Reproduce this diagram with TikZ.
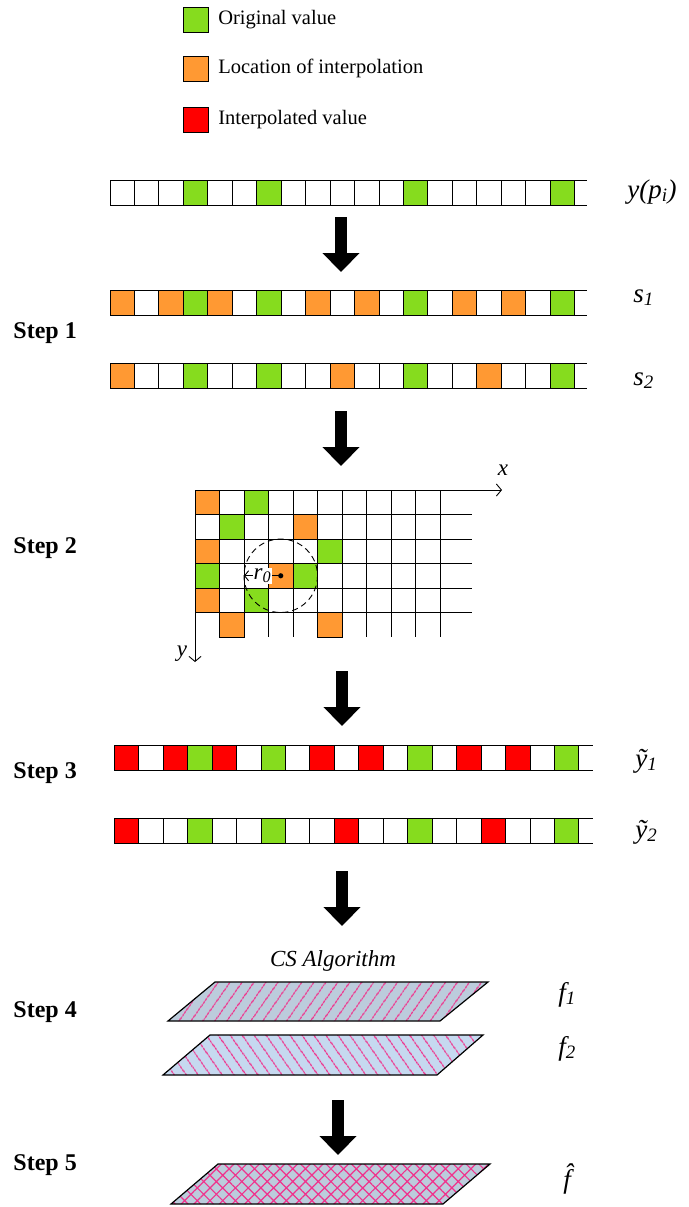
\documentclass[tikz,border=0pt]{standalone}
\usepackage{fontspec}
\setmainfont{Liberation Serif}
\usetikzlibrary{arrows.meta,patterns.meta,positioning}

\definecolor{origgreen}{RGB}{134,220,30}
\definecolor{interporange}{RGB}{255,153,51}
\definecolor{interpred}{RGB}{255,0,0}
\definecolor{layerone}{RGB}{188,204,220}
\definecolor{layertwo}{RGB}{198,217,240}
\definecolor{hatchpink}{RGB}{240,50,140}

\tikzset{
  bigarrow/.style = {line width=12bp, -{Triangle[width=36bp,length=19bp]}},
  legbox/.style = {draw, line width=1bp, minimum size=25bp, inner sep=0pt},
  legtext/.style = {anchor=west, font=\fontsize{20.5bp}{24bp}\selectfont},
  steplabel/.style = {anchor=west, inner sep=0pt, font=\fontsize{24bp}{28bp}\selectfont\bfseries},
  rowlabel/.style = {anchor=base west, inner sep=0pt, font=\fontsize{27bp}{31bp}\selectfont\itshape},
  layer/.style = {draw, line width=1.2bp}
}

% one row of 19 cells, open at the right end
\newcommand\cellrow[5]{%
  \draw (#1,#2) -- (#3,#2) (#1,#2+25) -- (#3,#2+25);
  \foreach \i in {0,...,19} \draw (#1+\i*24.45,#2) -- ++(0,25);
  \foreach \i in {3,6,12,18} \draw[fill=origgreen] (#1+\i*24.45,#2) rectangle ++(24.45,25);
  \foreach \i in {#4} \draw[fill=#5] (#1+\i*24.45,#2) rectangle ++(24.45,25);
}

\begin{document}
\begin{tikzpicture}[x=1bp, y=-1bp, line width=0.9bp]
  \useasboundingbox (0,0) rectangle (689,1207);

  % legend
  \node[legbox, fill=origgreen] (legorig) at (195.5,19.5) {};
  \node[legtext, right=6bp of legorig] (legorigtext) {Original value};
  \node[legbox, fill=interporange] (legloc) at (195.5,68.5) {};
  \node[legtext, right=6bp of legloc] (legloctext) {Location of interpolation};
  \node[legbox, fill=interpred] (leginterp) at (195.5,119.5) {};
  \node[legtext, right=6bp of leginterp] (leginterptext) {Interpolated value};

  % sampled rows
  \cellrow{110}{180}{587}{3}{origgreen}
  \node[rowlabel] (ypi) at (627,198) {y(p\textsubscript{i})};

  \cellrow{110}{290}{587}{0,2,4,8,10,14,16}{interporange}
  \node[rowlabel] (sone) at (633,302) {s\textsubscript{1}};
  \cellrow{110}{363}{587}{0,9,15}{interporange}
  \node[rowlabel] (stwo) at (633,385) {s\textsubscript{2}};
  \node[steplabel] (step1) at (13,333) {Step 1};

  % neighbourhood grid
  \foreach \i in {1,...,10} \draw (195+\i*24.5,490) -- ++(0,147);
  \foreach \j in {1,...,5} \draw (195,490+\j*24.5) -- (472,490+\j*24.5);
  \foreach \c/\r/\col in {0/0/interporange, 2/0/origgreen, 1/1/origgreen, 4/1/interporange,
      0/2/interporange, 5/2/origgreen, 0/3/origgreen, 3/3/interporange, 4/3/origgreen,
      0/4/interporange, 2/4/origgreen, 1/5/interporange, 5/5/interporange}
    \draw[fill=\col] (195+\c*24.5,490+\r*24.5) rectangle ++(24.5,24.5);
  \draw[-{Straight Barb[length=5bp,width=12bp]}] (195,490) -- (502,490);
  \draw[-{Straight Barb[length=5bp,width=12bp]}] (195,490) -- (195,662);
  \node[font=\fontsize{23bp}{26bp}\selectfont\itshape] (xlabel) at (503,470) {x};
  \node[font=\fontsize{23bp}{26bp}\selectfont\itshape] (ylabel) at (182,654) {y};
  \coordinate (centre) at (280.75,575.75);
  \draw[dashed, dash pattern=on 6bp off 4bp] (centre) circle (36.75);
  \fill (centre) circle (2.6);
  \coordinate (rim) at (244,575.75);
  \draw[-{Straight Barb[length=4bp,width=10bp]}] (centre) -- (rim)
    node[midway, fill=white, inner sep=0.5bp, font=\fontsize{23bp}{25bp}\selectfont\itshape] (rzero) {r\textsubscript{0}};
  \node[steplabel] (step2) at (13,548) {Step 2};

  % interpolated rows
  \cellrow{114.3}{745}{593}{0,2,4,8,10,14,16}{interpred}
  \node[rowlabel] (yone) at (635,767) {\~y\textsubscript{1}};
  \cellrow{114.3}{818}{593}{0,9,15}{interpred}
  \node[rowlabel] (ytwo) at (635,838) {\~y\textsubscript{2}};
  \node[steplabel] (step3) at (13,773) {Step 3};

  % reconstructed images
  \node[font=\fontsize{23bp}{27bp}\selectfont\itshape, anchor=base] (csalg) at (333,966) {CS Algorithm};
  \draw[layer, preaction={fill=layerone},
    pattern={Lines[angle=55,distance=9.5bp,line width=1.3bp]}, pattern color=hatchpink]
    (168,1021) -- (440,1021) -- (488,982) -- (215,982) -- cycle;
  \draw[layer, preaction={fill=layertwo},
    pattern={Lines[angle=-55,distance=9.5bp,line width=1.3bp]}, pattern color=hatchpink]
    (163,1075) -- (437,1075) -- (483,1035) -- (210,1035) -- cycle;
  \node[rowlabel] (fone) at (558,1001) {f\textsubscript{1}};
  \node[rowlabel] (ftwo) at (558,1055) {f\textsubscript{2}};
  \node[steplabel] (step4) at (13,1012) {Step 4};

  \draw[layer, preaction={fill=layerone},
    pattern={Hatch[angle=45,distance=9bp,line width=1.2bp]}, pattern color=hatchpink]
    (171,1204) -- (443,1204) -- (490,1164) -- (218,1164) -- cycle;
  \node[rowlabel] (fhat) at (563,1188) {\^f};
  \node[steplabel] (step5) at (13,1165) {Step 5};

  % arrows between the steps
  \foreach \x/\ya/\yb [count=\k] in {341/217/272, 341/411/466, 342/671/726, 342/871/926, 338/1100/1155} {
    \coordinate (arrtop\k) at (\x,\ya);
    \coordinate (arrtip\k) at (\x,\yb);
    \draw[bigarrow] (arrtop\k) -- (arrtip\k);
  }
\end{tikzpicture}
\end{document}
